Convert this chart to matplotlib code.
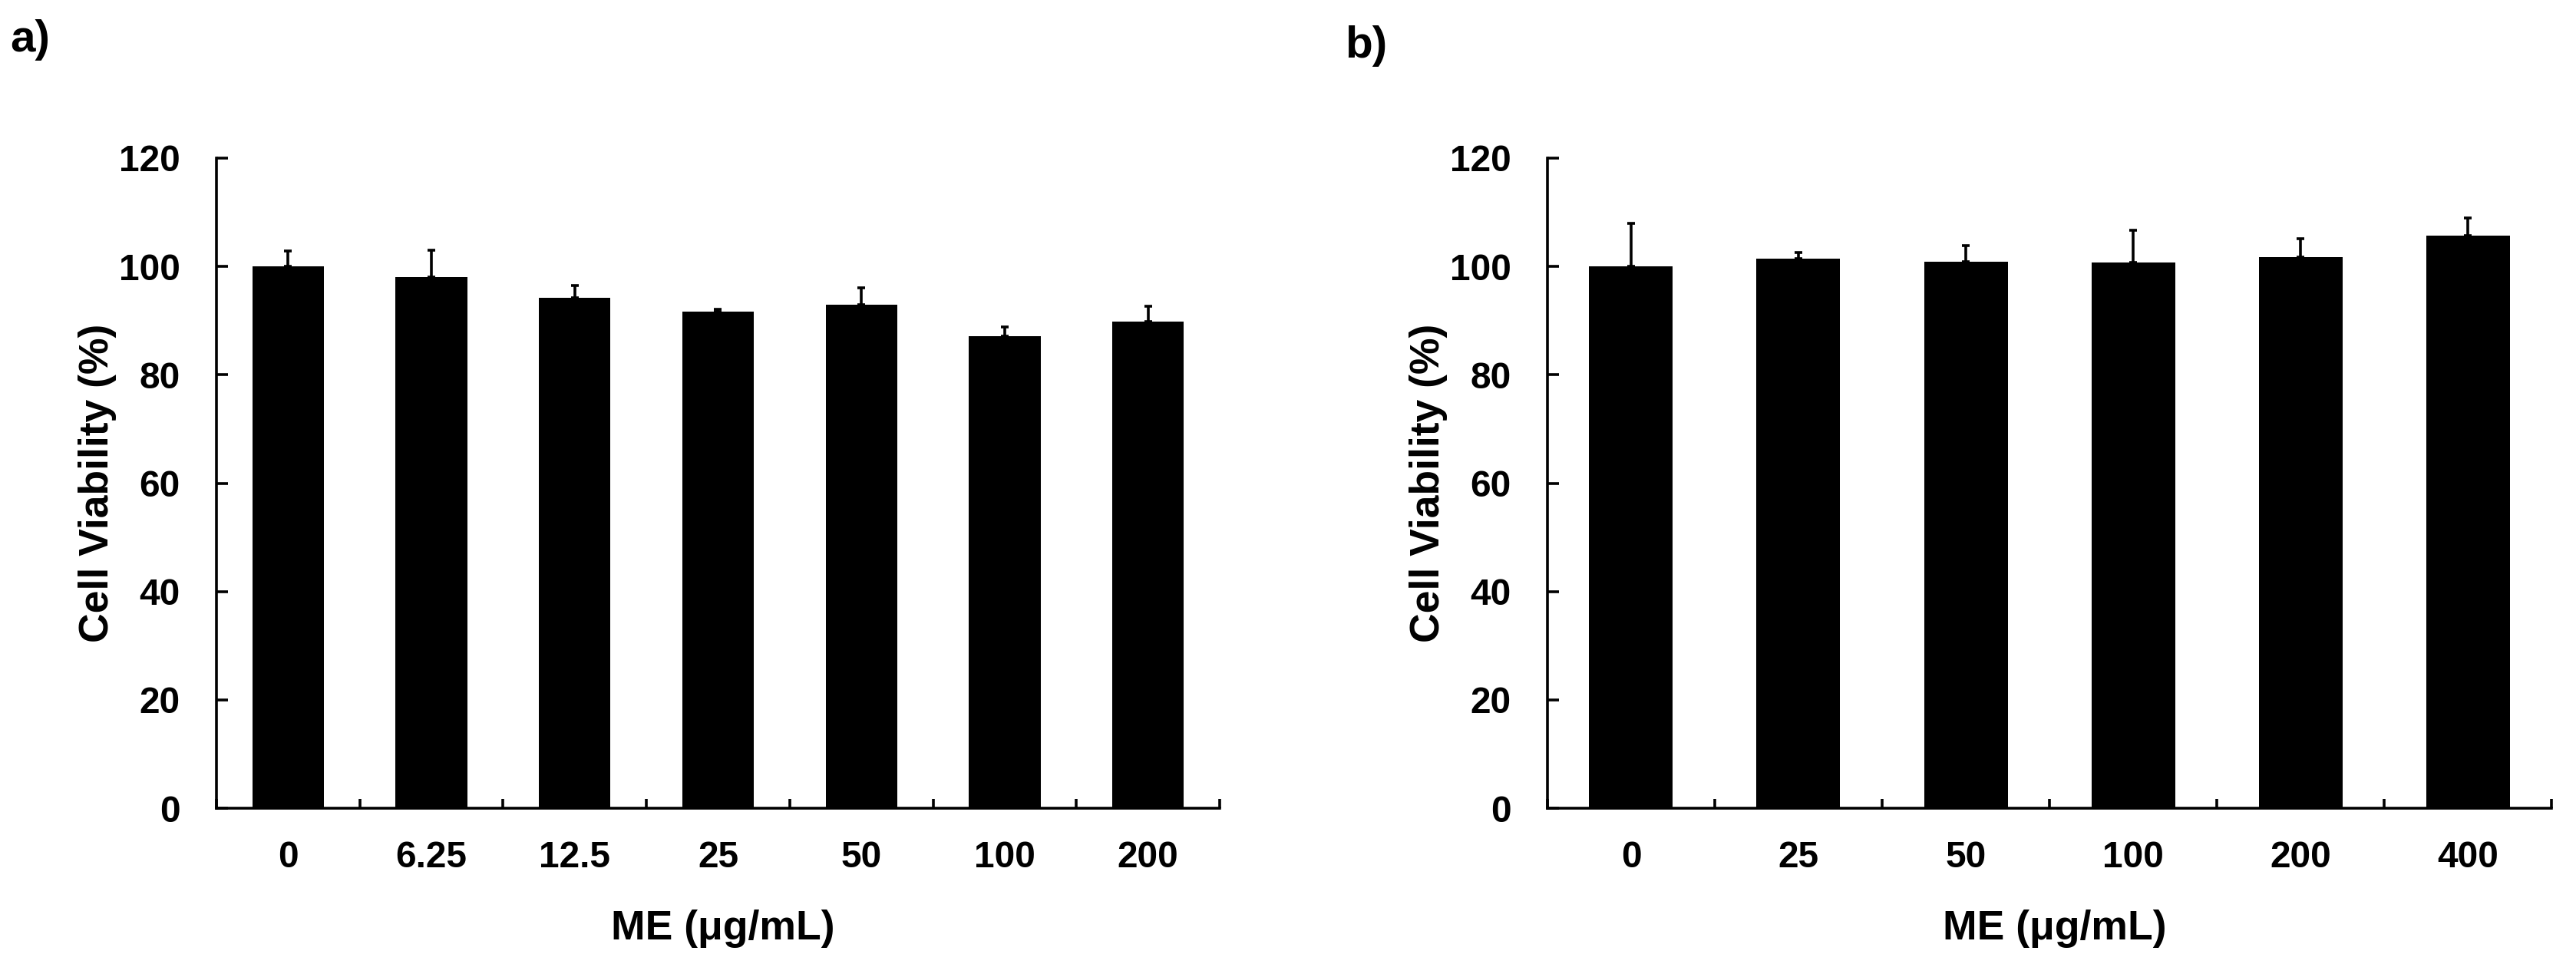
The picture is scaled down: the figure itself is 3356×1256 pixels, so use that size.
# Cell viability bar charts, panels a) and b)
import matplotlib
matplotlib.use('Agg')
import matplotlib.pyplot as plt
import numpy as np

plt.rcParams['font.family'] = ['Liberation Sans', 'DejaVu Sans']
plt.rcParams['font.weight'] = 'bold'

# panel a
conc_a = ['0', '6.25', '12.5', '25', '50', '100', '200']
viab_a = [100.0, 98.0, 94.2, 91.6, 93.0, 87.2, 89.8]
err_a = [2.8, 5.0, 2.3, 0.5, 3.0, 1.7, 2.9]

# panel b
conc_b = ['0', '25', '50', '100', '200', '400']
viab_b = [100.0, 101.5, 100.9, 100.7, 101.7, 105.7]
err_b = [8.0, 1.1, 2.9, 6.0, 3.4, 3.2]

xlabel = 'ME (\u03bcg/mL)'
ylabel = 'Cell Viability (%)'
yticks = [0, 20, 40, 60, 80, 100, 120]


def draw_panel(ax, cats, vals, errs):
    x = np.arange(len(cats))
    ax.bar(x, vals, width=0.5, color='black')
    ax.errorbar(x, vals, yerr=[np.zeros(len(vals)), errs], fmt='none',
                ecolor='black', elinewidth=2.6, capsize=3.5, capthick=2.6)

    ax.set_xlim(-0.5, len(cats) - 0.5)
    ax.set_ylim(0, 120)
    ax.set_yticks(yticks)
    ax.set_xticks(x)
    ax.set_xticklabels(cats)
    ax.set_xticks(np.arange(len(cats) + 1) - 0.5, minor=True)

    ax.spines['top'].set_visible(False)
    ax.spines['right'].set_visible(False)
    ax.spines['left'].set_linewidth(2.6)
    ax.spines['bottom'].set_linewidth(2.6)

    ax.tick_params(axis='x', which='major', length=0, pad=30, labelsize=34.5)
    ax.tick_params(axis='x', which='minor', direction='in', length=9, width=2.6)
    ax.tick_params(axis='y', direction='in', length=11, width=2.6, pad=34,
                   labelsize=34.5)

    ax.set_xlabel(xlabel, fontsize=38.5, fontweight='bold', va='center')
    ax.xaxis.set_label_coords(0.505, -0.185)
    ax.set_ylabel(ylabel, fontsize=38.5, fontweight='bold', va='center')
    ax.yaxis.set_label_coords(-0.1186, 0.5)


fig = plt.figure(figsize=(33.56, 12.56), dpi=100)
ax1 = fig.add_axes([0.0840, 0.1616, 0.3895, 0.6744])
ax2 = fig.add_axes([0.6007, 0.1616, 0.3898, 0.6744])

draw_panel(ax1, conc_a, viab_a, err_a)
draw_panel(ax2, conc_b, viab_b, err_b)

fig.text(0.0116, 0.9586, 'a)', fontsize=42, fontweight='bold', ha='center', va='center')
fig.text(0.5304, 0.952, 'b)', fontsize=42, fontweight='bold', ha='center', va='center')

plt.savefig('out.png', dpi=100)
